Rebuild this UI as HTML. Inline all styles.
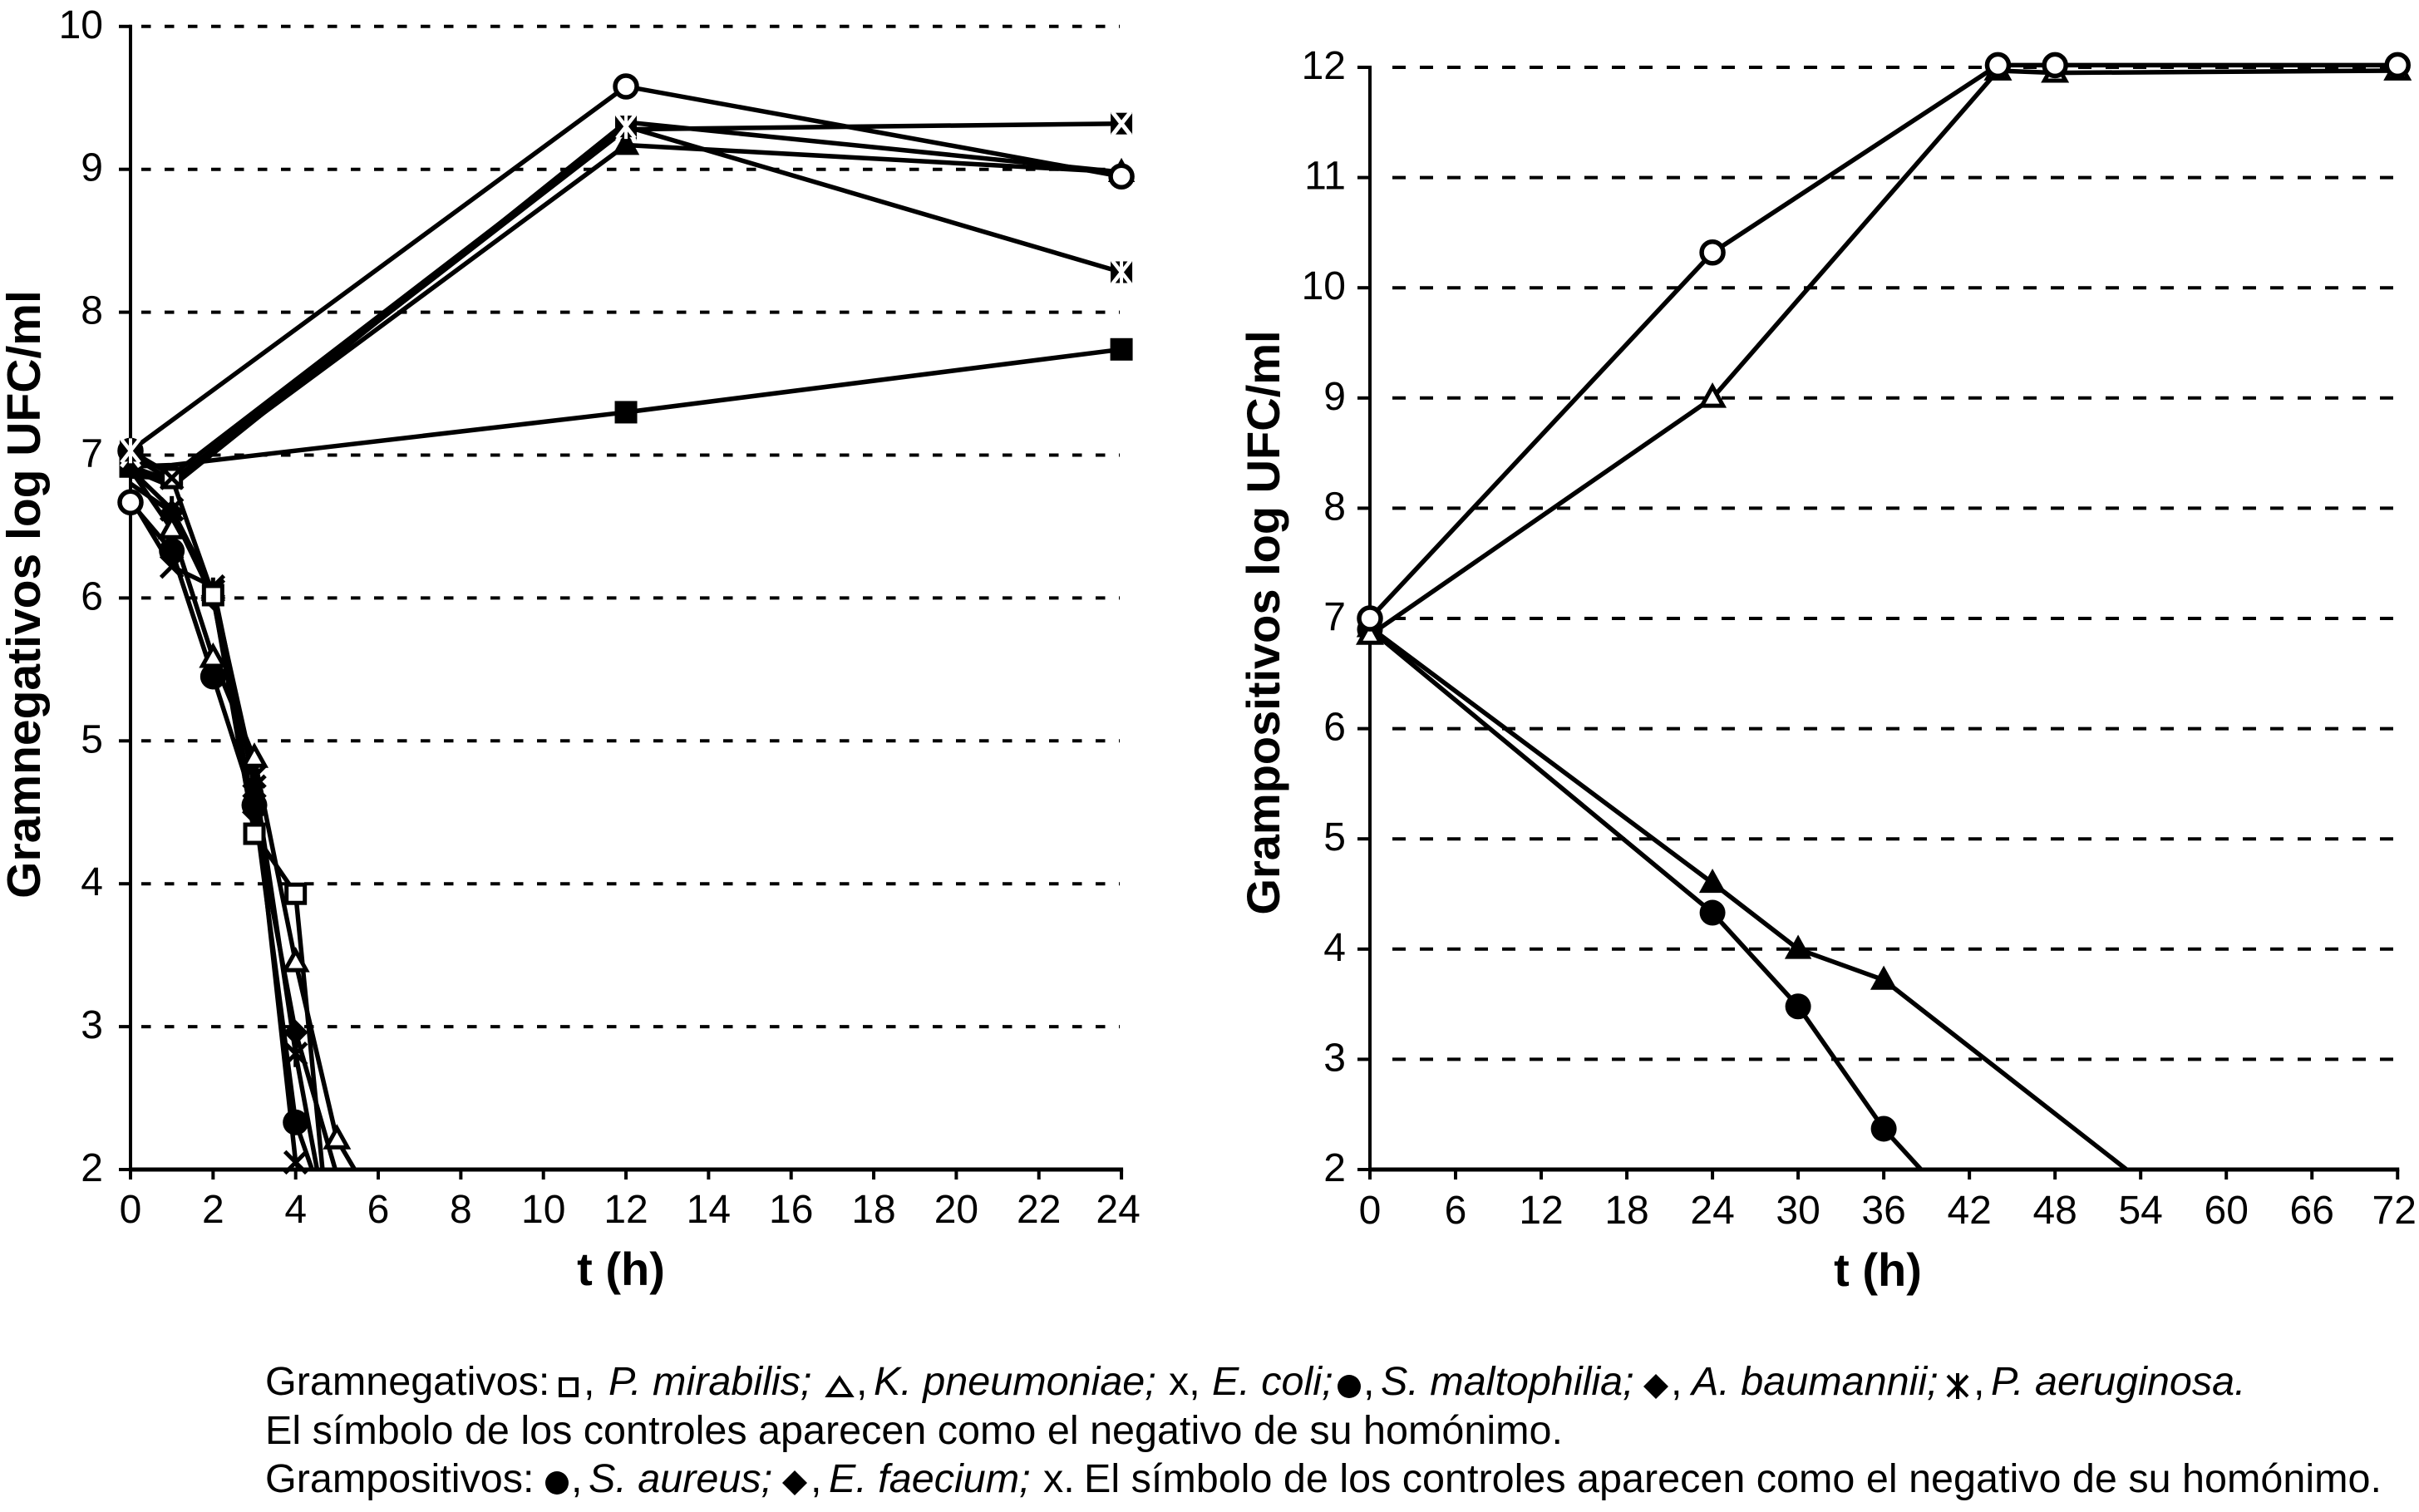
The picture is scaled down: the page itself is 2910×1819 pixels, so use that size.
<!DOCTYPE html>
<html lang="es">
<head>
<meta charset="utf-8">
<title>Curvas de letalidad</title>
<style>
html,body{margin:0;padding:0;background:#fff;}
svg{display:block;}
text{font-family:"Liberation Sans",sans-serif;fill:#000;}
.leg{font-size:48.5px;}
.it{font-style:italic;}
</style>
</head>
<body>
<svg id="figure" xmlns="http://www.w3.org/2000/svg" width="2910" height="1819" viewBox="0 0 2910 1819">
<rect width="2910" height="1819" fill="#fff"/>
<defs>
<clipPath id="clip-left"><rect x="0" y="0" width="1400" height="1407"/></clipPath>
<clipPath id="clip-right"><rect x="1600" y="0" width="1310" height="1407"/></clipPath>
</defs>
<g id="left-chart"></g>
<g id="right-chart"></g>
<g>
  <text class="leg" x="319" y="1678">Gramnegativos:</text>
  <rect x="674" y="1659" width="20" height="20" fill="none" stroke="#000" stroke-width="4"/>
  <text class="leg" x="702" y="1678">,</text>
  <text class="leg it" x="732" y="1678">P. mirabilis;</text>
  <polygon points="1010,1658 1024,1679 996,1679" fill="none" stroke="#000" stroke-width="4"/>
  <text class="leg" x="1030" y="1678">,</text>
  <text class="leg it" x="1051" y="1678">K. pneumoniae;</text>
  <text class="leg" x="1406" y="1678">x,</text>
  <text class="leg it" x="1458" y="1678">E. coli;</text>
  <circle cx="1623" cy="1668" r="14" fill="#000"/>
  <text class="leg" x="1640" y="1678">,</text>
  <text class="leg it" x="1661" y="1678">S. maltophilia;</text>
  <polygon points="1992,1653 2007,1668 1992,1683 1977,1668" fill="#000"/>
  <text class="leg" x="2010" y="1678">,</text>
  <text class="leg it" x="2035" y="1678">A. baumannii;</text>
  <path d="M2343 1655L2367 1680M2367 1655L2343 1680M2355 1652L2355 1683" stroke="#000" stroke-width="4" fill="none"/>
  <text class="leg" x="2374" y="1678">,</text>
  <text class="leg it" x="2395" y="1678">P. aeruginosa.</text>

  <text class="leg" x="319" y="1737">El símbolo de los controles aparecen como el negativo de su homónimo.</text>

  <text class="leg" x="319" y="1795">Grampositivos:</text>
  <circle cx="670" cy="1784" r="14" fill="#000"/>
  <text class="leg" x="687" y="1795">,</text>
  <text class="leg it" x="708" y="1795">S. aureus;</text>
  <polygon points="956,1769 971,1784 956,1799 941,1784" fill="#000"/>
  <text class="leg" x="975" y="1795">,</text>
  <text class="leg it" x="997" y="1795">E. faecium;</text>
  <text class="leg" x="1255" y="1795">x.</text>
  <text class="leg" x="1304" y="1795">El símbolo de los controles aparecen como el negativo de su homónimo.</text>
</g>
</svg>
<script>
// ---- Left chart data (Gramnegativos) ----
const killHours = [0, 1, 2, 3, 4, 5, 6];
const pMirabilis = [6.85, 6.84, 6.02, 4.35, 3.93, 0.96];
const kPneumoniae = [6.9, 6.48, 5.58, 4.88, 3.45, 2.21, 1.72];
const eColi = [6.7, 6.22, 6.08, 4.68, 2.05, 1.5];
const sMaltophilia = [6.67, 6.33, 5.45, 4.55, 2.33, 1.5];
const aBaumannii = [6.8, 6.6, 6.0, 4.5, 2.96, 1.96];
const pAeruginosa = [6.9, 6.62, 6.05, 4.75, 2.81, 1.25];
const controlHours = [0, 1, 12, 24];
const ctrlMirabilis = [6.92, 6.93, 7.3, 7.74];
const ctrlPneumoniae = [6.92, 6.82, 9.17, 8.98];
const ctrlColi = [7.0, 6.82, 9.28, 9.32];
const ctrlBaumannii = [6.9, 6.78, 9.33, 8.98];
const ctrlAeruginosa = [7.03, 6.86, 9.3, 8.28];
const directHours = [0, 12, 24];
const ctrlMaltophilia = [7.03, 9.58, 8.95];
const inoculumHours = [0];
const inoculumValue = [6.67];
const overlayHours = [1];
const overlayValue = [6.84];
const leftXTicks = [0, 2, 4, 6, 8, 10, 12, 14, 16, 18, 20, 22, 24];
const leftYTicks = [2, 3, 4, 5, 6, 7, 8, 9, 10];

// ---- Right chart data (Grampositivos) ----
const gpHoursUp = [0, 24, 44, 48, 72];
const ctrlAureus = [7.0, 10.32, 12.02, 12.02, 12.02];
const ctrlFaecium = [6.85, 9.0, 11.97, 11.95, 11.97];
const gpHoursAureus = [0, 24, 30, 36, 42];
const sAureus = [6.9, 4.33, 3.48, 2.37, 1.52];
const gpHoursFaecium = [0, 24, 30, 36, 54];
const eFaecium = [6.92, 4.6, 4.0, 3.72, 1.9];
const rightXTicks = [0, 6, 12, 18, 24, 30, 36, 42, 48, 54, 60, 66, 72];
const rightYTicks = [2, 3, 4, 5, 6, 7, 8, 9, 10, 11, 12];

const NS = 'http://www.w3.org/2000/svg';
function mk(parent, tag, attrs) {
  const el = document.createElementNS(NS, tag);
  for (const k in attrs) el.setAttribute(k, attrs[k]);
  parent.appendChild(el);
  return el;
}

function drawMarker(parent, type, cx, cy, name) {
  const g = mk(parent, 'g', {});
  
  
  const line = (x1, y1, x2, y2, c, w) => mk(g, 'line', {x1: cx + x1, y1: cy + y1, x2: cx + x2, y2: cy + y2, stroke: c, 'stroke-width': w});
  const tri = [[0, -16], [15, 11], [-15, 11]];
  const triPts = (s) => tri.map(p => (cx + p[0] * s) + ',' + (cy + p[1] * s)).join(' ');
  const dia = (cx) + ',' + (cy - 15) + ' ' + (cx + 15) + ',' + cy + ' ' + cx + ',' + (cy + 15) + ' ' + (cx - 15) + ',' + cy;
  if (type === 'circle-open') mk(g, 'circle', {cx: cx, cy: cy, r: 13, fill: '#fff', stroke: '#000', 'stroke-width': 5.5});
  if (type === 'circle-filled') mk(g, 'circle', {cx: cx, cy: cy, r: 15.5, fill: '#000'});
  if (type === 'square-open') mk(g, 'rect', {x: cx - 11, y: cy - 11, width: 22, height: 22, fill: '#fff', stroke: '#000', 'stroke-width': 5});
  if (type === 'square-filled') mk(g, 'rect', {x: cx - 13.5, y: cy - 13.5, width: 27, height: 27, fill: '#000'});
  if (type === 'triangle-open') mk(g, 'polygon', {points: triPts(0.85), fill: '#fff', stroke: '#000', 'stroke-width': 5});
  if (type === 'triangle-filled') mk(g, 'polygon', {points: triPts(1.08), fill: '#000'});
  if (type === 'diamond-filled') mk(g, 'polygon', {points: dia, fill: '#000'});
  if (type === 'x-black') { line(-13, -13, 13, 13, '#000', 5); line(13, -13, -13, 13, '#000', 5); }
  if (type === 'star-black') { line(-13, -13, 13, 13, '#000', 5); line(13, -13, -13, 13, '#000', 5); line(0, -16, 0, 16, '#000', 5); }
  if (type === 'x-white') { mk(g, 'rect', {x: cx - 13, y: cy - 13, width: 26, height: 26, fill: '#000'}); line(-11, -14, 11, 14, '#fff', 5); line(11, -14, -11, 14, '#fff', 5); }
  if (type === 'star-white') { mk(g, 'rect', {x: cx - 13, y: cy - 13, width: 26, height: 26, fill: '#000'}); line(-11, -14, 11, 14, '#fff', 4.5); line(11, -14, -11, 14, '#fff', 4.5); line(0, -15, 0, 15, '#fff', 4); }
}

function drawChart(cfg) {
  const root = document.getElementById(cfg.id);
  const x0 = cfg.x(cfg.xTicks[0]);
  const lastX = cfg.xTicks[cfg.xTicks.length - 1];
  const x1 = cfg.x(lastX);
  const yb = cfg.y(cfg.yTicks[0]);
  const yt = cfg.y(cfg.yTicks[cfg.yTicks.length - 1]);

  cfg.yTicks.forEach(v => {
    if (v === cfg.yTicks[0]) return;
    const grid = mk(root, 'line', {x1: x0 + cfg.gridStart, y1: cfg.y(v), x2: x1 - 2, y2: cfg.y(v), stroke: '#000', 'stroke-width': 4, 'stroke-dasharray': cfg.dash});
    
    
  });

  cfg.series.forEach(s => {
    const pts = s.values.map((v, i) => cfg.x(s.hours[i]) + ',' + cfg.y(v)).join(' ');
    const pl = mk(root, 'polyline', {points: pts, fill: 'none', stroke: '#000', 'stroke-width': s.noLine ? 0 : 5.5, 'stroke-linejoin': 'round', 'clip-path': 'url(#' + cfg.clip + ')'});
    
    
  });

  const yAxis = mk(root, 'line', {x1: x0, y1: yt - 2, x2: x0, y2: yb + 2, stroke: '#000', 'stroke-width': 4});
  
  
  const xAxis = mk(root, 'line', {x1: x0 - 2, y1: yb, x2: x1 + 2, y2: yb, stroke: '#000', 'stroke-width': 5});
  
  

  cfg.yTicks.forEach(v => {
    const t = mk(root, 'line', {x1: x0 - cfg.yTickLen, y1: cfg.y(v), x2: x0, y2: cfg.y(v), stroke: '#000', 'stroke-width': 4});
    
    
    const l = mk(root, 'text', {x: cfg.yLabelX, y: cfg.y(v) + 14, 'text-anchor': 'end', 'font-size': 48});
    l.textContent = v;
    
    
  });
  cfg.xTicks.forEach(v => {
    const t = mk(root, 'line', {x1: cfg.x(v), y1: yb, x2: cfg.x(v), y2: yb + 12, stroke: '#000', 'stroke-width': 4});
    
    
    const shift = v === lastX ? -4 : 0;
    const l = mk(root, 'text', {x: cfg.x(v) + shift, y: cfg.xLabelY, 'text-anchor': 'middle', 'font-size': 48});
    l.textContent = v;
    
    
  });

  const xt = mk(root, 'text', {x: cfg.xTitleX, y: cfg.xTitleY, 'text-anchor': 'middle', 'font-size': 56, 'font-weight': 'bold'});
  xt.textContent = 't (h)';
  
  
  const yTitle = mk(root, 'text', {transform: 'translate(' + cfg.yTitleX + ',' + cfg.yTitleY + ') rotate(-90)', 'text-anchor': 'middle', 'font-size': cfg.yTitleSize, 'font-weight': 'bold'});
  yTitle.textContent = cfg.yTitle;
  
  

  cfg.series.forEach(s => {
    s.values.forEach((v, i) => {
      if (v < 2) return;
      if (s.marker === 'none') return;
      if (s.hideHours && s.hideHours.indexOf(s.hours[i]) !== -1) return;
      drawMarker(root, s.marker, cfg.x(s.hours[i]), cfg.y(v), 'point-' + s.name + '-' + s.hours[i]);
    });
  });
}

const xLeft = v => 157 + v * 49.67;
const yLeft = v => 1407 - (v - 2) * 171.9;
const xRight = v => 1648 + v * 17.17;
const yRight = v => 1407 - (v - 2) * 132.6;

drawChart({
  id: 'left-chart', clip: 'clip-left', x: xLeft, y: yLeft,
  xTicks: leftXTicks, yTicks: leftYTicks,
  gridStart: 13, dash: '11.5 16.5', yTickLen: 14, yLabelX: 124, xLabelY: 1471,
  xTitleX: 747, xTitleY: 1546, yTitleX: 48, yTitleY: 715, yTitleSize: 57,
  yTitle: 'Gramnegativos log UFC/ml',
  series: [
    {name: 'control-a-baumannii', marker: 'none', hours: controlHours, values: ctrlBaumannii},
    {name: 'e-coli', marker: 'x-black', hours: killHours, values: eColi, hideHours: [0]},
    {name: 'p-aeruginosa', marker: 'star-black', hours: killHours, values: pAeruginosa, hideHours: [0]},
    {name: 'a-baumannii', marker: 'diamond-filled', hours: killHours, values: aBaumannii, hideHours: [0]},
    {name: 's-maltophilia', marker: 'circle-filled', hours: killHours, values: sMaltophilia, hideHours: [0]},
    {name: 'k-pneumoniae', marker: 'triangle-open', hours: killHours, values: kPneumoniae, hideHours: [0]},
    {name: 'control-k-pneumoniae', marker: 'triangle-filled', hours: controlHours, values: ctrlPneumoniae, hideHours: [0, 1]},
    {name: 'p-mirabilis', marker: 'square-open', hours: killHours, values: pMirabilis, hideHours: [0]},
    {name: 'control-s-maltophilia', marker: 'circle-open', hours: directHours, values: ctrlMaltophilia},
    {name: 'control-p-mirabilis', marker: 'square-filled', hours: controlHours, values: ctrlMirabilis, hideHours: [1]},
    {name: 'control-e-coli', marker: 'x-white', hours: controlHours, values: ctrlColi, hideHours: [1]},
    {name: 'control-p-aeruginosa', marker: 'star-white', hours: controlHours, values: ctrlAeruginosa, hideHours: [1]},
    {name: 'overlay-cross', marker: 'x-black', hours: overlayHours, values: overlayValue, noLine: true},
    {name: 'inoculum-s-maltophilia', marker: 'circle-open', hours: inoculumHours, values: inoculumValue, noLine: true}
  ]
});

drawChart({
  id: 'right-chart', clip: 'clip-right', x: xRight, y: yRight,
  xTicks: rightXTicks, yTicks: rightYTicks,
  gridStart: 27, dash: '16 17', yTickLen: 15, yLabelX: 1619, xLabelY: 1472,
  xTitleX: 2259, xTitleY: 1547, yTitleX: 1539, yTitleY: 749, yTitleSize: 56,
  yTitle: 'Grampositivos log UFC/ml',
  series: [
    {name: 's-aureus', marker: 'circle-filled', hours: gpHoursAureus, values: sAureus},
    {name: 'e-faecium', marker: 'triangle-filled', hours: gpHoursFaecium, values: eFaecium},
    {name: 'control-e-faecium', marker: 'triangle-open', hours: gpHoursUp, values: ctrlFaecium},
    {name: 'control-s-aureus', marker: 'circle-open', hours: gpHoursUp, values: ctrlAureus}
  ]
});
</script>
</body>
</html>
